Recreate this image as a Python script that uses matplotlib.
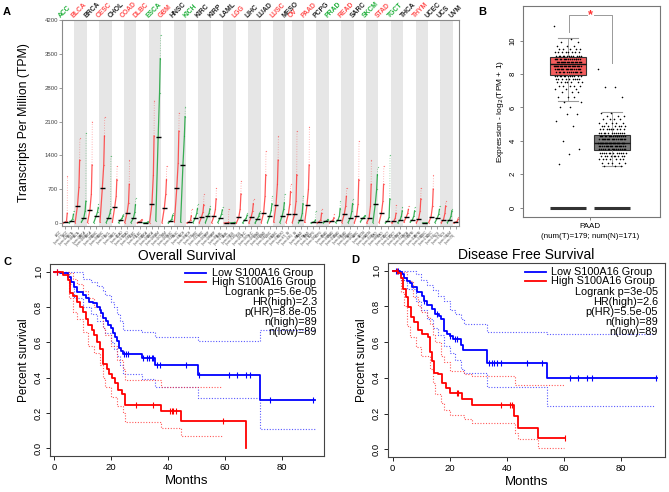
import numpy as np
import matplotlib
matplotlib.use("Agg")
import matplotlib.pyplot as plt

plt.rcParams["font.family"] = ["Liberation Sans", "DejaVu Sans"]

W, H = 669, 492

# ---------------- Panel A: pan-cancer dot plot (TPM) ----------------
cancers = ["ACC", "BLCA", "BRCA", "CESC", "CHOL", "COAD", "DLBC", "ESCA", "GBM", "HNSC",
           "KICH", "KIRC", "KIRP", "LAML", "LGG", "LIHC", "LUAD", "LUSC", "MESO", "OV",
           "PAAD", "PCPG", "PRAD", "READ", "SARC", "SKCM", "STAD", "TGCT", "THCA", "THYM",
           "UCEC", "UCS", "UVM"]
label_colors = ["g", "r", "k", "r", "k", "r", "r", "g", "r", "k",
                "g", "k", "k", "k", "r", "k", "k", "r", "k", "r",
                "r", "k", "g", "r", "k", "g", "r", "g", "k", "r",
                "k", "k", "k"]
tumor_num = [77, 404, 1085, 306, 36, 275, 47, 182, 163, 519, 66, 523, 286, 173, 518, 369,
             483, 486, 87, 426, 179, 182, 492, 92, 262, 461, 408, 137, 512, 118, 174, 57, 79]
normal_num = [128, 28, 291, 13, 9, 349, 337, 286, 207, 44, 53, 100, 60, 70, 207, 160,
              347, 338, 0, 88, 171, 3, 152, 318, 2, 558, 211, 165, 337, 339, 91, 78, 0]

# quantiles read per group: p0, p50, p80, p95, max (TPM)
tumor_q = [
    [0, 15, 40, 200, 970], [10, 360, 750, 1300, 1760], [10, 270, 600, 1200, 2100],
    [20, 715, 1200, 1800, 2190], [20, 330, 550, 900, 1180], [10, 213, 420, 800, 1310],
    [2, 28, 45, 65, 80], [10, 400, 1000, 1800, 2530], [5, 316, 600, 900, 1180],
    [30, 715, 1250, 1900, 2280], [1, 20, 60, 150, 300], [5, 124, 230, 380, 590],
    [5, 138, 280, 500, 730], [0, 2, 5, 15, 300], [2, 117, 300, 600, 870],
    [1, 124, 250, 400, 500], [10, 206, 550, 1000, 1490], [20, 370, 800, 1300, 1800],
    [10, 190, 400, 650, 800], [10, 180, 450, 1000, 1900], [15, 378, 700, 1200, 1990],
    [2, 28, 70, 200, 300], [5, 40, 70, 110, 180], [10, 180, 350, 550, 730],
    [5, 150, 400, 900, 1690], [1, 103, 350, 800, 1300], [10, 206, 450, 800, 1180],
    [2, 41, 100, 200, 380], [20, 124, 200, 280, 350], [5, 90, 250, 500, 730],
    [10, 130, 350, 700, 1000], [5, 69, 200, 350, 450], [0, 21, 40, 80, 120],
]
normal_q = [
    [5, 40, 90, 180, 250], [20, 96, 250, 450, 1860], [10, 140, 230, 320, 385],
    [10, 110, 200, 280, 1380], [5, 70, 110, 150, 180], [10, 96, 220, 380, 520],
    [1, 5, 10, 20, 40], [50, 1780, 2700, 3400, 3890], [2, 41, 90, 160, 210],
    [20, 1210, 1800, 2200, 2410], [10, 110, 200, 300, 385], [10, 138, 210, 290, 350],
    [10, 110, 190, 270, 330], [0, 5, 8, 12, 20], [2, 69, 110, 160, 200],
    [1, 83, 140, 200, 250], [10, 145, 260, 400, 550], [10, 150, 280, 420, 590],
    None, [10, 69, 200, 400, 560], [1, 14, 30, 60, 250],
    [5, 34, 50, 70, 80], [10, 62, 150, 300, 450], [10, 103, 250, 400, 500],
    [30, 103, 130, 150, 160], [10, 385, 700, 1000, 1150], [2, 34, 120, 500, 1400],
    [5, 62, 150, 250, 330], [20, 69, 150, 250, 330], [0, 1, 2, 5, 10],
    [10, 103, 180, 280, 350], [10, 69, 150, 250, 300], None,
]
tpm_ticks = [0, 700, 1400, 2100, 2800, 3500, 4200]

# ---------------- Panel B: PAAD boxplot ----------------
box_T = dict(q1=7.92, med=8.6, q3=9.0, whislo=6.4, whishi=10.14)
box_N = dict(q1=3.48, med=3.9, q3=4.38, whislo=2.5, whishi=5.73)
pts_T_vals = [10.9, 10.1, 9.9, 9.7, 9.5, 9.3, 9.1, 8.9, 8.7, 8.5, 8.3, 8.1, 7.9, 7.7,
              7.5, 7.3, 7.1, 6.9, 6.6, 6.3, 6.0, 5.6, 5.2, 4.9, 4.0, 3.5, 3.2, 2.6]
pts_T_counts = [1, 1, 2, 3, 5, 8, 12, 16, 20, 22, 18, 14, 12, 9,
                7, 5, 3, 3, 3, 2, 2, 2, 1, 1, 1, 1, 1, 1]
pts_N_vals = [8.3, 7.2, 6.6, 5.7, 5.5, 5.3, 5.1, 4.9, 4.7, 4.5, 4.3, 4.1, 3.9, 3.7,
              3.5, 3.3, 3.1, 2.9, 2.7, 2.5]
pts_N_counts = [1, 2, 1, 2, 3, 4, 5, 7, 9, 12, 16, 18, 20, 18, 15, 12, 9, 7, 5, 3]

# ---------------- Panels C/D: Kaplan-Meier ----------------
os_low_t = [0, 2.0, 4.9, 5.7, 6.9, 7.9, 10.0, 11.1, 12.3, 13.7, 14.9, 16.1, 16.6, 17.2, 18.2,
            19.0, 19.9, 20.8, 21.5, 22.2, 22.7, 23.4, 24.0, 30.7, 35.6, 50.6, 72.3, 91.7]
os_low_s = [1.0, 0.99, 0.97, 0.94, 0.915, 0.887, 0.87, 0.85, 0.83, 0.82, 0.80, 0.785, 0.765,
            0.74, 0.72, 0.70, 0.68, 0.65, 0.63, 0.605, 0.57, 0.55, 0.535, 0.51, 0.47, 0.415,
            0.276, 0.276]
os_high_t = [0, 3.0, 4.9, 5.5, 6.7, 8.1, 9.0, 10.0, 11.1, 12.0, 13.1, 14.0, 14.9, 16.1, 17.2,
             18.4, 19.2, 20.2, 21.2, 22.5, 23.7, 24.9, 37.7, 44.5, 67.4]
os_high_s = [1.0, 0.98, 0.95, 0.88, 0.86, 0.83, 0.80, 0.77, 0.73, 0.70, 0.67, 0.64, 0.60, 0.56,
             0.48, 0.45, 0.42, 0.40, 0.37, 0.33, 0.306, 0.244, 0.21, 0.156, 0.0]
os_low_cens = [1.0, 24.5, 25.2, 25.8, 31.3, 32.5, 33.4, 34.2, 34.8, 36.2, 37.2, 46.5, 51.0,
               61.5, 64.4, 67.4, 69.0, 76.0, 91.1]
os_high_cens = [1.0, 28.7, 34.6, 40.7, 41.3, 41.9, 42.7, 59.2]
os_low_up_t = [0, 5, 10, 13, 15, 17, 18, 20, 21, 22, 23, 24, 30.7, 35.6, 50.6, 72.3, 91.7]
os_low_up_s = [1.0, 0.995, 0.96, 0.94, 0.92, 0.89, 0.87, 0.83, 0.80, 0.76, 0.72, 0.67, 0.66,
               0.63, 0.605, 0.67, 0.67]
os_low_lo_t = [0, 5, 7, 10, 13, 15, 17, 18, 20, 21, 22, 23, 24, 30.7, 35.6, 50.6, 72.3, 91.7]
os_low_lo_s = [1.0, 0.93, 0.85, 0.80, 0.76, 0.72, 0.68, 0.65, 0.60, 0.56, 0.52, 0.47, 0.42,
               0.39, 0.35, 0.285, 0.11, 0.11]
os_high_up_t = [0, 5, 6.7, 8, 10, 12, 14, 16, 17, 18, 20, 22, 24, 25, 37.7, 59]
os_high_up_s = [1.0, 0.99, 0.96, 0.93, 0.89, 0.85, 0.80, 0.75, 0.68, 0.64, 0.58, 0.50, 0.45,
                0.385, 0.35, 0.35]
os_high_lo_t = [0, 5, 6.7, 8, 10, 12, 14, 16, 17, 18, 20, 22, 24, 25, 37.7, 44.5, 59]
os_high_lo_s = [1.0, 0.85, 0.77, 0.73, 0.66, 0.58, 0.54, 0.47, 0.40, 0.35, 0.29, 0.24, 0.20,
                0.15, 0.118, 0.07, 0.07]
os_stats = ["Logrank p=5.6e-05", "HR(high)=2.3", "p(HR)=8.8e-05", "n(high)=89", "n(low)=89"]

dfs_low_t = [0, 2.6, 3.2, 4.1, 5.1, 6.0, 6.9, 8.4, 10.4, 11.1, 11.9, 13.7, 14.9, 16.3, 17.0,
             17.9, 19.0, 20.1, 21.3, 24.0, 24.8, 33.0, 54.0, 92.6]
dfs_low_s = [1.0, 0.995, 0.98, 0.957, 0.943, 0.93, 0.91, 0.88, 0.86, 0.83, 0.806, 0.787, 0.76,
             0.745, 0.727, 0.66, 0.646, 0.637, 0.618, 0.584, 0.556, 0.482, 0.40, 0.40]
dfs_high_t = [0, 2.0, 2.9, 3.7, 4.7, 5.5, 6.4, 7.6, 9.0, 10.4, 12.3, 13.2, 13.9, 14.6, 16.0,
              17.4, 18.6, 20.1, 24.4, 27.7, 42.7, 43.9, 50.9, 60.5]
dfs_high_s = [1.0, 0.985, 0.957, 0.90, 0.853, 0.797, 0.74, 0.712, 0.67, 0.646, 0.627, 0.542,
              0.495, 0.43, 0.42, 0.373, 0.343, 0.316, 0.283, 0.25, 0.185, 0.122, 0.062, 0.062]
dfs_low_cens = [1.0, 1.8, 11.1, 15.5, 20.1, 21.8, 22.7, 33.8, 34.7, 35.7, 36.7, 37.9, 47.0,
                52.3, 62.2, 65.1, 68.1, 70.0, 92.3]
dfs_high_cens = [1.5, 22.5, 23.0, 38.0, 41.2, 41.8, 60.5]
dfs_low_up_t = [0, 5, 8, 10, 12, 14, 16, 18, 20, 22, 24, 25, 33, 54, 92]
dfs_low_up_s = [1.0, 1.0, 0.98, 0.95, 0.92, 0.89, 0.86, 0.83, 0.78, 0.76, 0.73, 0.70, 0.655,
                0.645, 0.645]
dfs_low_lo_t = [0, 3, 5, 8, 10, 12, 14, 16, 18, 20, 22, 24, 25, 33, 54, 92]
dfs_low_lo_s = [1.0, 0.95, 0.90, 0.83, 0.78, 0.73, 0.68, 0.64, 0.58, 0.54, 0.50, 0.45, 0.43,
                0.35, 0.245, 0.245]
dfs_high_up_t = [0, 3, 5, 7, 9, 10, 12, 13, 14, 15, 17, 18, 20, 25, 28, 38, 43, 60]
dfs_high_up_s = [1.0, 0.99, 0.94, 0.85, 0.80, 0.77, 0.74, 0.70, 0.64, 0.60, 0.52, 0.49, 0.44,
                 0.42, 0.41, 0.41, 0.36, 0.36]
dfs_high_lo_t = [0, 3, 4, 5, 6, 8, 10, 13, 14, 15, 17, 18, 20, 25, 28, 43, 44, 51, 60]
dfs_high_lo_s = [1.0, 0.88, 0.80, 0.69, 0.63, 0.57, 0.52, 0.45, 0.37, 0.31, 0.26, 0.22, 0.19,
                 0.17, 0.145, 0.09, 0.06, 0.01, 0.01]
dfs_stats = ["Logrank p=3e-05", "HR(high)=2.6", "p(HR)=5.5e-05", "n(high)=89", "n(low)=89"]


def px_axes(fig, left, top, right, bottom):
    return fig.add_axes([left / W, 1 - bottom / H, (right - left) / W, (bottom - top) / H])


fig = plt.figure(figsize=(W / 100, H / 100), dpi=100)

# ---- A ----
axA = px_axes(fig, 62, 20, 459, 226)
frac = np.array([0.0, 0.5, 0.8, 0.95, 1.0])
col = 0
xt, xl = [], []
for i, name in enumerate(cancers):
    ncol = 1 if normal_q[i] is None else 2
    if i % 2 == 1:
        axA.axvspan(col, col + ncol, color="#E6E6E6", lw=0, zorder=0)
    groups = [(tumor_q[i], "#FF3B3B", tumor_num[i])]
    if normal_q[i] is not None:
        groups.append((normal_q[i], "#19A33A", normal_num[i]))
    for j, (q, c, n) in enumerate(groups):
        x0 = col + j
        xs = x0 + 0.12 + 0.76 * frac
        axA.plot(xs[:4], q[:4], color=c, lw=0.9, alpha=0.85, zorder=2)
        axA.plot(xs[3:], q[3:], color=c, lw=0.6, ls=(0, (1, 2)), alpha=0.5, zorder=2)
        axA.scatter(xs, q, s=0.8, color=c, alpha=0.6, lw=0, zorder=3)
        axA.hlines(q[1], x0 + 0.1, x0 + 0.9, color="black", lw=1.0, zorder=5)
        xt.append(x0 + 0.5)
        xl.append(f"{name}\n(num={n})")
    axA.text(col + 0.1, 4215, name, rotation=45, rotation_mode="anchor", ha="left",
             va="bottom", fontsize=4.9, fontweight="bold",
             color={"r": "#FF4C4C", "g": "#1FAF3A", "k": "#222222"}[label_colors[i]])
    col += ncol
axA.set_xlim(0, col)
axA.set_ylim(-62, 4200)
axA.set_yticks(tpm_ticks)
axA.set_yticklabels([str(v) for v in tpm_ticks], fontsize=4.3, color="#444444")
axA.set_xticks(xt)
axA.set_xticklabels(xl, rotation=45, ha="right", va="top", fontsize=2.2, color="#333333",
                    linespacing=0.9)
axA.tick_params(axis="both", length=2, width=0.5, color="#777777", pad=1)
for sp in axA.spines.values():
    sp.set_color("#8A8A8A")
    sp.set_linewidth(0.8)
axA.set_ylabel("Transcripts Per Million (TPM)", fontsize=8.8, labelpad=10)

# ---- B ----
axB = px_axes(fig, 523, 6, 660, 217)
pos = [1, 2]
bp = axB.bxp([dict(box_T, fliers=[]), dict(box_N, fliers=[])], positions=pos, widths=0.8,
             patch_artist=True, showfliers=False,
             boxprops=dict(linewidth=0.8, edgecolor="#333333"),
             medianprops=dict(color="#111111", linewidth=1.0),
             whiskerprops=dict(color="#9A9A9A", linewidth=0.6),
             capprops=dict(color="#9A9A9A", linewidth=0.8), capwidths=0.45)
bp["boxes"][0].set_facecolor("#F45D5D")
bp["boxes"][1].set_facecolor("#787878")
for p, vals, cnts in [(1, pts_T_vals, pts_T_counts), (2, pts_N_vals, pts_N_counts)]:
    v = np.repeat(vals, cnts)
    jit = ((np.arange(len(v)) * 0.618034) % 1 - 0.5) * 0.62
    axB.scatter(p + jit, v, s=1.3, color="black", lw=0, zorder=4)
    axB.hlines(0, p - 0.4, p + 0.4, color="#333333", lw=2.2, zorder=4)
axB.plot([1.03, 1.03, 1.43], [10.5, 11.54, 11.54], color="#999999", lw=0.7)
axB.plot([1.6, 2.0, 2.0], [11.54, 11.54, 8.65], color="#999999", lw=0.7)
axB.text(1.515, 11.54, "*", color="#FF3030", fontsize=9, ha="center", va="center",
         fontweight="bold")
axB.set_xlim(-0.02, 3.09)
axB.set_ylim(-0.56, 12.08)
axB.set_yticks([0, 2, 4, 6, 8, 10])
axB.set_yticklabels(["0", "2", "4", "6", "8", "10"], rotation=90, va="center", fontsize=5.5)
axB.set_xticks([1.5])
axB.set_xticklabels(["PAAD\n(num(T)=179; num(N)=171)"], fontsize=5.8, linespacing=1.5)
axB.tick_params(axis="both", length=2.5, width=0.5, color="#555555", pad=2)
for sp in axB.spines.values():
    sp.set_color("#777777")
    sp.set_linewidth(0.8)
axB.set_ylabel("Expression - log$_2$(TPM + 1)", fontsize=6, labelpad=3)


# ---- C / D ----
def step_at(t, s, x):
    idx = np.searchsorted(t, x, side="right") - 1
    return np.asarray(s)[idx]


def km_panel(ax, title, low, high, ci, cens, stats):
    for (t, s), c in zip(ci, ["#3030FF", "#3030FF", "#FF3030", "#FF3030"]):
        ax.plot(t, s, drawstyle="steps-post", color=c, lw=0.8, ls=(0, (1, 1.5)), alpha=0.8)
    for (t, s), c, cs in [(low, "#0000FF", cens[0]), (high, "#FF0000", cens[1])]:
        ax.plot(t, s, drawstyle="steps-post", color=c, lw=1.3)
        ax.plot(cs, step_at(t, s, cs), ls="none", marker="|", ms=5, mew=0.8, color=c)
    ax.set_title(title, fontsize=10, pad=3)
    ax.set_ylim(-0.043, 1.043)
    ax.set_yticks([0, 0.2, 0.4, 0.6, 0.8, 1.0])
    ax.set_yticklabels(["0.0", "0.2", "0.4", "0.6", "0.8", "1.0"], rotation=90, va="center",
                       fontsize=6.8)
    ax.set_xticks([0, 20, 40, 60, 80])
    ax.tick_params(axis="both", labelsize=6.8, length=3, width=0.6, pad=2)
    ax.set_ylabel("Percent survival", fontsize=8.5, labelpad=3)
    ax.set_xlabel("Months", fontsize=9.5, labelpad=2)
    for sp in ax.spines.values():
        sp.set_color("#444444")
        sp.set_linewidth(0.8)
    ax.plot([0.493, 0.571], [0.952, 0.952], color="#0000FF", lw=1.3, transform=ax.transAxes)
    ax.plot([0.493, 0.571], [0.905, 0.905], color="#FF0000", lw=1.3, transform=ax.transAxes)
    ax.text(0.59, 0.952, "Low S100A16 Group", fontsize=7.8, va="center",
            transform=ax.transAxes)
    ax.text(0.59, 0.905, "High S100A16 Group", fontsize=7.8, va="center",
            transform=ax.transAxes)
    for k, s in enumerate(stats):
        ax.text(0.975, 0.853 - 0.052 * k, s, fontsize=7.8, ha="right", va="center",
                transform=ax.transAxes)


axC = px_axes(fig, 50, 264, 324, 456)
axC.set_xlim((50 - 54.3) / 2.8425, (324 - 54.3) / 2.8425)
km_panel(axC, "Overall Survival", (os_low_t, os_low_s), (os_high_t, os_high_s),
         [(os_low_up_t, os_low_up_s), (os_low_lo_t, os_low_lo_s),
          (os_high_up_t, os_high_up_s), (os_high_lo_t, os_high_lo_s)],
         (os_low_cens, os_high_cens), os_stats)

axD = px_axes(fig, 388, 263, 665, 457)
axD.set_xlim((388 - 392.7) / 2.85, (665 - 392.7) / 2.85)
km_panel(axD, "Disease Free Survival", (dfs_low_t, dfs_low_s), (dfs_high_t, dfs_high_s),
         [(dfs_low_up_t, dfs_low_up_s), (dfs_low_lo_t, dfs_low_lo_s),
          (dfs_high_up_t, dfs_high_up_s), (dfs_high_lo_t, dfs_high_lo_s)],
         (dfs_low_cens, dfs_high_cens), dfs_stats)

for lab, x, y in [("A", 7, 12), ("B", 482, 12), ("C", 7, 262), ("D", 355, 260)]:
    fig.text(x / W, 1 - y / H, lab, fontsize=8, fontweight="bold", ha="center", va="center")

fig.savefig("out.png", dpi=100)
